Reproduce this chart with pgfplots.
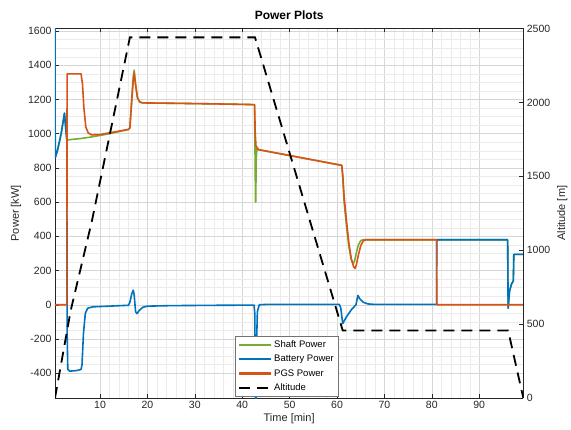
\documentclass[border=0pt]{standalone}
\usepackage{fontspec}
\setmainfont{Liberation Sans}
\usepackage{pgfplots}
\pgfplotsset{compat=1.18}
\definecolor{mgreen}{rgb}{0.466,0.674,0.188}
\definecolor{mblue}{rgb}{0,0.447,0.741}
\definecolor{morange}{rgb}{0.85,0.325,0.098}
\definecolor{axgray}{rgb}{0.15,0.15,0.15}

\begin{document}
\begin{tikzpicture}
\pgfplotsset{
  every axis/.append style={
    scale only axis, width=468.3pt, height=369.5pt, at={(0pt,0pt)}, anchor=south west,
    xmin=0.5, xmax=99.3,
    /pgf/number format/assume math mode=true,
    /pgf/number format/1000 sep={},
    tick label style={font=\fontsize{10.5}{12}\selectfont, color=axgray},
    label style={font=\fontsize{11}{13}\selectfont, color=axgray},
    axis line style={axgray, line width=0.5pt},
    tick style={axgray, line width=0.5pt},
    tick align=inside,
    major tick length=4pt,
    minor tick length=0pt,
  }
}
\begin{axis}[
  ymin=-545, ymax=1615,
  xtick={10,20,...,90},
  ytick={-400,-200,...,1600},
  minor x tick num=4, minor y tick num=3,
  grid=both,
  major grid style={black!16, line width=0.45pt},
  minor grid style={black!8, line width=0.35pt},
  axis y line*=left,
  xtick pos=both, xticklabel pos=bottom,
  ylabel={Power [kW]},
  xlabel={Time [min]},
  xlabel style={yshift=2pt},
  title={\bfseries Power Plots},
  title style={font=\fontsize{12}{14}\selectfont, anchor=south, at={(0.5,1)}, yshift=-1pt},
  line join=round,
]
% Shaft power
\addplot[mgreen, line width=1.6pt] coordinates {
(0.55,860) (1.0,900) (1.8,1000) (2.5,1120) (2.8,1020) (3.0,962) (3.5,965) (6.0,972) (8.0,980) (12.0,1000) (16.0,1025) (16.3,1035) (16.7,1200) (17.0,1330) (17.2,1372) (17.5,1290) (17.9,1210) (18.4,1185) (19.0,1180) (25.0,1178) (35.0,1174) (42.6,1170) (42.7,900) (42.8,600) (42.85,600) (42.95,850) (43.1,915) (43.4,907) (61.0,815) (61.2,750) (61.5,600) (62.0,460) (62.5,340) (63.0,265) (63.4,240) (63.7,255) (64.1,305) (64.5,350) (65.0,375) (65.5,380) (81.0,380) (96.0,380) (96.1,-20) (96.4,80) (96.8,120) (97.2,140) (97.3,295) (99.3,295)
};
% Battery power
\addplot[mblue, line width=1.6pt] coordinates {
(0.5,1700) (0.55,860) (1.0,900) (1.8,1000) (2.5,1120) (2.8,1020) (3.0,962) (3.05,-150) (3.2,-378) (3.6,-388) (5.0,-385) (6.0,-378) (6.2,-350) (6.5,-170) (6.9,-50) (7.4,-20) (8.5,-12) (12,-8) (16,-3) (16.3,15) (16.7,65) (17.0,85) (17.2,60) (17.5,-40) (17.8,-52) (18.3,-32) (19,-15) (20,-8) (25,-5) (35,-3) (42.5,-2) (42.65,-50) (42.75,-400) (42.8,-580) (42.9,-580) (43.0,-250) (43.2,-40) (43.6,0) (45,2) (60.5,2) (60.8,-20) (61.2,-110) (62,-70) (63,-30) (64,0) (64.4,55) (64.8,35) (65.5,15) (66.5,5) (68,2) (81.0,2) (81.05,380) (96.0,380) (96.1,-20) (96.4,80) (96.8,120) (97.2,140) (97.3,295) (99.3,295)
};
% PGS power
\addplot[morange, line width=1.6pt] coordinates {
(0.5,0) (3.0,0) (3.05,1350) (6.0,1350) (6.3,1290) (6.6,1150) (7.0,1040) (7.5,1005) (8.2,993) (10,995) (16.0,1025) (16.3,1035) (16.7,1200) (17.0,1310) (17.2,1355) (17.5,1285) (17.9,1210) (18.4,1185) (19,1180) (25,1178) (35,1174) (42.6,1170) (42.75,1000) (42.9,930) (43.4,907) (61.0,815) (61.2,760) (61.5,630) (62.0,490) (62.5,360) (63.0,270) (63.5,222) (63.8,212) (64.1,235) (64.5,290) (65.0,345) (65.5,372) (66.0,380) (81.0,380) (81.05,0) (99.3,0)
};
\end{axis}
\begin{axis}[
  ymin=0, ymax=2500,
  ytick={0,500,...,2500},
  axis x line=none,
  axis y line*=right,
  ytick pos=right,
  ylabel={Altitude [m]},
  legend style={at={(0.385,0.168)}, anchor=north west, draw=black!55, fill=white,
    font=\fontsize{9.5}{11}\selectfont, row sep=2.2pt, inner sep=2.5pt,
    legend cell align=left},
  legend image code/.code={\draw[line width=2.2pt, #1] (0pt,0pt) -- (32pt,0pt);},
]
\addlegendimage{draw=mgreen}
\addlegendentry{Shaft Power}
\addlegendimage{draw=mblue}
\addlegendentry{Battery Power}
\addlegendimage{draw=morange}
\addlegendentry{PGS Power}
\addplot[black, line width=1.8pt, dash pattern=on 11pt off 7pt] coordinates {
(0.5,0) (3.8,590) (8.3,1200) (16.3,2440) (42.7,2440) (61.2,457) (96.1,457) (99.3,0)
};
\addlegendentry{Altitude}
\end{axis}
\pgfresetboundingbox
\useasboundingbox (-55pt,-31pt) rectangle (516pt,398pt);
\end{tikzpicture}
\end{document}
